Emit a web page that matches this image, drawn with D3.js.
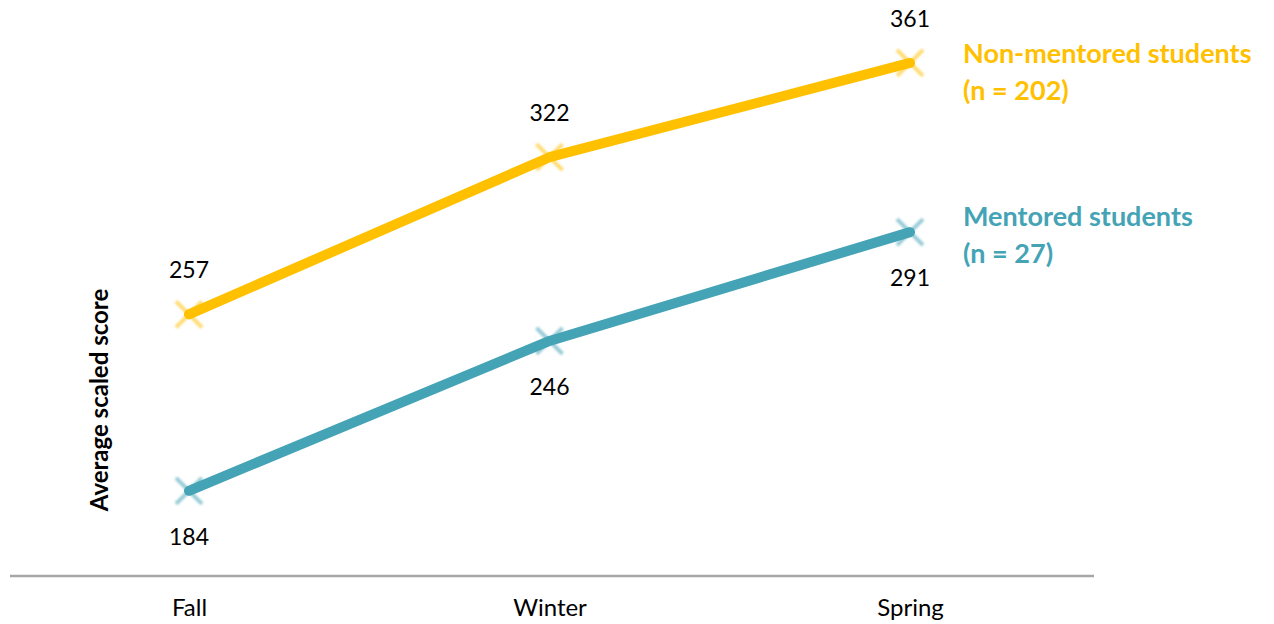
<!DOCTYPE html>
<html>
<head>
<meta charset="utf-8">
<script src="https://cdn.jsdelivr.net/npm/d3@7/dist/d3.min.js"></script>
<style>
  html, body { margin: 0; padding: 0; background: #fff; }
  svg { display: block; }
</style>
</head>
<body>
<svg id="chart" width="1274" height="624"></svg>
<script>
// Terms on the x axis
const terms = ["Fall", "Winter", "Spring"];
// Average scaled score per term
const nonMentored = [257, 322, 361];
const mentored = [184, 246, 291];
// Series names and group sizes
const seriesNames = ["Non-mentored students", "Mentored students"];
const seriesCounts = ["(n = 202)", "(n = 27)"];
const seriesColors = ["#FFC000", "#45A3B6"];

const svg = d3.select("#chart");

const x = d3.scalePoint().domain(terms).range([189, 910]);
const y = d3.scaleLinear().domain([150, 380]).range([573, 17]);

const defs = svg.append("defs");
defs.append("filter").attr("id", "soft")
  .append("feGaussianBlur").attr("stdDeviation", 1.1);

// Baseline axis
svg.append("line")
  .attr("x1", 10).attr("x2", 1094)
  .attr("y1", 576).attr("y2", 576)
  .attr("stroke", "#a6a6a6").attr("stroke-width", 2.5);

// Term labels
const xAxis = d3.axisBottom(x).tickSize(0).tickPadding(0);
const gx = svg.append("g").attr("transform", "translate(0,616)").call(xAxis);
gx.select(".domain").remove();
gx.selectAll("text")
  .attr("dy", 0)
  .style("font-family", "Lato, 'Open Sans', sans-serif")
  .style("font-size", "24px")
  .attr("fill", "#000");

// Y axis title
svg.append("text")
  .attr("transform", "translate(108,400) rotate(-90)")
  .attr("text-anchor", "middle")
  .style("font-family", "Lato, 'Open Sans', sans-serif")
  .style("font-weight", "bold")
  .style("font-size", "24px")
  .attr("fill", "#000")
  .text("Average scaled score");

const series = [
  { values: nonMentored, color: seriesColors[0], labelDy: -44, name: seriesNames[0], n: seriesCounts[0], legendY: 63 },
  { values: mentored, color: seriesColors[1], labelDy: 46, name: seriesNames[1], n: seriesCounts[1], legendY: 226 }
];

const line = d3.line().x((d, i) => x(terms[i])).y(d => y(d));

series.forEach(s => {
  const g = svg.append("g");

  // X markers, soft and translucent
  const m = 13;
  g.selectAll("path.marker").data(s.values).join("path")
    .attr("class", "marker")
    .attr("d", (d, i) => {
      const cx = x(terms[i]), cy = y(d);
      return `M${cx - m},${cy - m}L${cx + m},${cy + m}M${cx - m},${cy + m}L${cx + m},${cy - m}`;
    })
    .attr("stroke", s.color)
    .attr("stroke-opacity", 0.55)
    .attr("stroke-width", 4)
    .attr("fill", "none")
    .attr("filter", "url(#soft)");

  g.append("path")
    .datum(s.values)
    .attr("d", line)
    .attr("fill", "none")
    .attr("stroke", s.color)
    .attr("stroke-width", 10)
    .attr("stroke-linecap", "round")
    .attr("stroke-linejoin", "round");

  g.selectAll("text.val").data(s.values).join("text")
    .attr("class", "val")
    .attr("x", (d, i) => x(terms[i]))
    .attr("y", d => y(d) + s.labelDy)
    .attr("dy", "0.35em")
    .attr("text-anchor", "middle")
    .style("font-family", "Lato, 'Open Sans', sans-serif")
    .style("font-size", "23px")
    .attr("fill", "#000")
    .text(d => d);

  const lg = svg.append("text")
    .attr("x", 963)
    .attr("y", s.legendY)
    .style("font-family", "Lato, 'Open Sans', sans-serif")
    .style("font-weight", "bold")
    .style("font-size", "27px")
    .attr("fill", s.color);
  lg.append("tspan").attr("x", 963).text(s.name);
  lg.append("tspan").attr("x", 963).attr("dy", 37).text(s.n);
});
</script>
</body>
</html>
